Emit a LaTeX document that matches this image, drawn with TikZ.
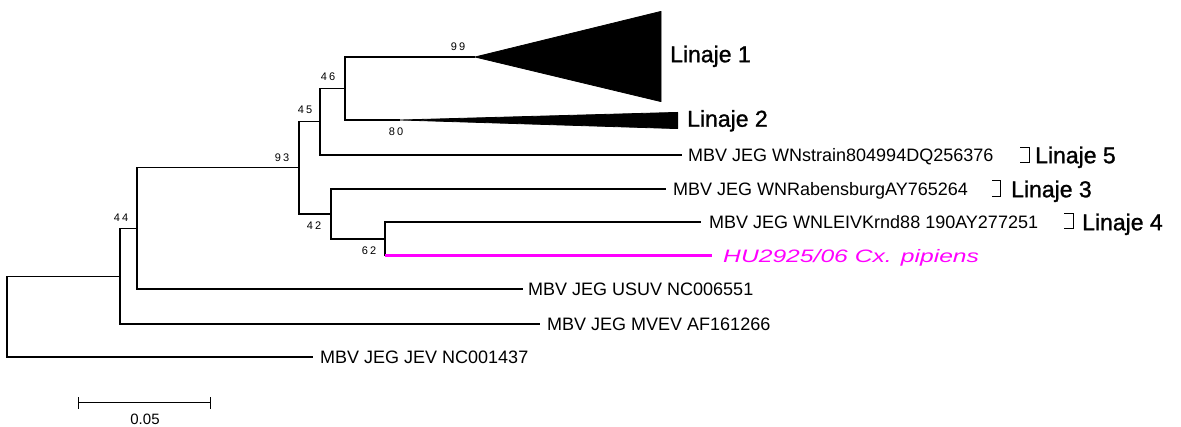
\documentclass[tikz,border=0pt]{standalone}
\usepackage{fontspec}
\usepackage{graphicx}
\setmainfont{Liberation Sans}
\newfontfamily\bsfont[LetterSpace=20]{Liberation Sans}
\newfontfamily\linfont[FakeBold=1.2]{Liberation Sans}
\definecolor{hu}{RGB}{255,0,255}
\begin{document}
\begin{tikzpicture}[x=1pt,y=-1pt,
  br/.style={line width=1.1pt, black},
  clade/.style={fill=black, draw=black, line width=0.8pt, line join=round},
  tiplab/.style={anchor=west, inner sep=0pt, font=\fontsize{18}{18}\selectfont, text height=12.9pt, text depth=0pt},
  linlab/.style={anchor=west, inner sep=0pt, font=\linfont\fontsize{23}{23}\selectfont, text height=16.5pt, text depth=0pt},
  bs/.style={inner sep=0pt, font=\bsfont\fontsize{11}{11}\selectfont},
  bk/.style={line width=1pt}
]
\useasboundingbox (0,0) rectangle (1181,427);
% internal nodes
\coordinate (r) at (7,316.75);
\coordinate (n44) at (120,276.25);
\coordinate (nA) at (137,228.5);
\coordinate (n93) at (299,167.75);
\coordinate (n45) at (320,121.5);
\coordinate (n46) at (345,88.5);
\coordinate (n42) at (331,214);
\coordinate (n62) at (385,239);
% tips
\coordinate (t1) at (475,57);
\coordinate (t2) at (400,120);
\coordinate (t5) at (682,155);
\coordinate (t3) at (666,189);
\coordinate (t4) at (701,222);
\coordinate (thu) at (712,256);
\coordinate (tusuv) at (523,289);
\coordinate (tmvev) at (540,324);
\coordinate (tjev) at (313,357);
\coordinate (hub) at (385,256);
% branches
\draw[br] (r) |- (n44);
\draw[br] (r) |- (tjev);
\draw[br] (n44) |- (nA);
\draw[br] (n44) |- (tmvev);
\draw[br] (nA) |- (n93);
\draw[br] (nA) |- (tusuv);
\draw[br] (n93) |- (n45);
\draw[br] (n93) |- (n42);
\draw[br] (n45) |- (n46);
\draw[br] (n45) |- (t5);
\draw[br] (n46) |- (t1);
\draw[br] (n46) |- (t2);
\draw[br] (n42) |- (t3);
\draw[br] (n42) |- (n62);
\draw[br] (n62) |- (t4);
\draw[br] (n62) -- (hub);
\draw[line width=3pt, hu] (hub) -- (thu);
% collapsed clades
\path[clade] (t1) -- (661,11.4) -- (661,101.6) -- cycle;
\path[clade] (t2) -- (677.6,112.4) -- (677.6,128.6) -- cycle;
% tip labels
\node[tiplab] (l5) at (688,155) {MBV JEG WNstrain804994DQ256376};
\node[tiplab] (l3) at (673,189) {MBV JEG WNRabensburgAY765264};
\node[tiplab] (l4) at (709,222) {MBV JEG WNLEIVKrnd88 190AY277251};
\node[tiplab, text=hu, font=\fontsize{18}{18}\selectfont\itshape] (lhu) at (723,256) {\scalebox{1.37}[1]{HU2925/06 Cx. pipiens}};
\node[tiplab] (lusuv) at (528,289) {MBV JEG USUV NC006551};
\node[tiplab] (lmvev) at (547,324) {MBV JEG MVEV AF161266};
\node[tiplab] (ljev) at (320,357) {MBV JEG JEV NC001437};
% lineage labels
\node[linlab] (L1) at (670,54) {Linaje 1};
\node[linlab] (L2) at (687,118.5) {Linaje 2};
\node[linlab] (L5) at (1035,155) {Linaje 5};
\node[linlab] (L3) at (1011,189) {Linaje 3};
\node[linlab] (L4) at (1082,222) {Linaje 4};
\draw[bk] (1020,148) -- (1029,148) -- (1029,163) -- (1020,163);
\draw[bk] (992,181) -- (1000,181) -- (1000,197) -- (992,197);
\draw[bk] (1064,214) -- (1073,214) -- (1073,229) -- (1064,229);
% bootstrap values
\node[bs] (b99) at (458,47) {99};
\node[bs] (b46) at (328,77) {46};
\node[bs] (b45) at (305,110) {45};
\node[bs] (b80) at (396,132) {80};
\node[bs] (b93) at (282,158) {93};
\node[bs] (b44) at (121,218) {44};
\node[bs] (b42) at (314,226) {42};
\node[bs] (b62) at (369,251) {62};
% scale bar
\coordinate (sa) at (78,403);
\coordinate (sb) at (210,403);
\draw[bk] (sa) -- (sb);
\draw[bk] ([yshift=-6pt]sa) -- ([yshift=6pt]sa);
\draw[bk] ([yshift=-6pt]sb) -- ([yshift=6pt]sb);
\node[inner sep=0pt, font=\fontsize{15}{15}\selectfont] (sl) at (145,419) {0.05};
\end{tikzpicture}
\end{document}
